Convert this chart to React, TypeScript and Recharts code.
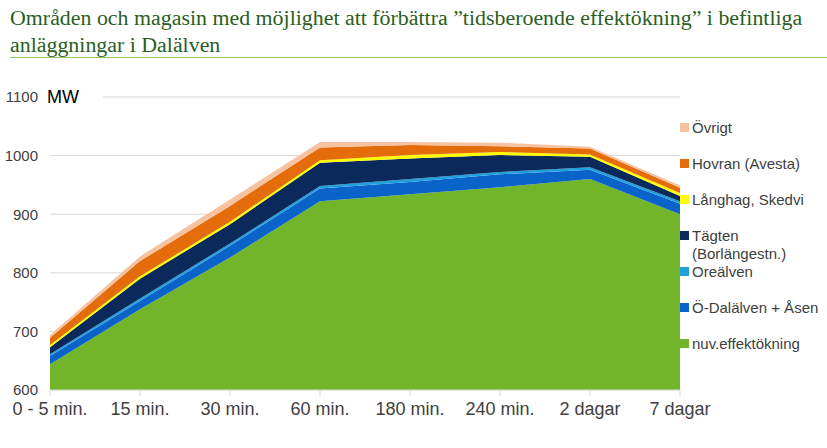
import React from 'react';
import { AreaChart, Area, XAxis, YAxis, CartesianGrid } from 'recharts';

const categories = ['0 - 5 min.', '15 min.', '30 min.', '60 min.', '180 min.', '240 min.', '2 dagar', '7 dagar'];

const nuvEffektokning = [644, 738, 826, 922, 934, 946, 960, 900];
const oDalalvenAsen = [14, 14, 20, 22, 21, 22, 16, 18];
const orealven = [3, 4, 4, 4, 5, 4, 4, 4];
const tagten = [12, 34, 33, 40, 35, 29, 18, 9];
const langhagSkedvi = [4, 4, 4, 4, 6, 5, 4, 5];
const hovranAvesta = [12, 26, 27, 22, 17, 10, 10, 9];
const ovrigt = [5, 8, 11, 9, 5, 6, 3, 4];

const yTicks = [600, 700, 800, 900, 1000, 1100];

const seriesNames = [
  'nuv.effektökning',
  'Ö-Dalälven + Åsen',
  'Oreälven',
  'Tägten (Borlängestn.)',
  'Långhag, Skedvi',
  'Hovran (Avesta)',
  'Övrigt',
];
const seriesValues = [nuvEffektokning, oDalalvenAsen, orealven, tagten, langhagSkedvi, hovranAvesta, ovrigt];
const seriesColors = ['#72B52B', '#0A63C8', '#22A0DE', '#0B2A5B', '#FFFF00', '#E46C0A', '#F7C2A0'];

const data = categories.map((cat, i) => {
  const row: Record<string, string | number> = { cat };
  seriesValues.forEach((vals, s) => {
    row['s' + s] = vals[i];
  });
  return row;
});

const sans = '"Liberation Sans", Arial, sans-serif';

const LegendBox = () => {
  const items = seriesNames.map((name, i) => ({ name, color: seriesColors[i] })).reverse();
  return (
    <div style={{ position: 'absolute', left: 680, top: 119, width: 147, height: 300, fontFamily: sans, fontSize: 15, color: '#404040' }}>
      {items.map((it, i) => (
        <div
          key={it.name}
          style={{ position: 'absolute', left: 0, top: i * 36, display: 'flex', alignItems: 'flex-start', lineHeight: '18px' }}
        >
          <span style={{ width: 9, height: 9, background: it.color, marginTop: 4, marginRight: 3, flex: 'none' }} />
          <span style={{ width: 135 }}>{it.name}</span>
        </div>
      ))}
    </div>
  );
};

export default function App() {
  return (
    <div style={{ position: 'fixed', left: 0, top: 0, width: 827, height: 448, background: '#fff', overflow: 'hidden' }}>
      <div
        style={{
          position: 'absolute',
          left: 10,
          top: 4,
          width: 810,
          fontFamily: '"Liberation Serif", "Times New Roman", serif',
          fontSize: 21.9,
          lineHeight: '27px',
          color: '#2B5E1E',
        }}
      >
        Områden och magasin med möjlighet att förbättra ”tidsberoende effektökning” i befintliga anläggningar i Dalälven
      </div>
      <div style={{ position: 'absolute', left: 10, top: 57, width: 817, height: 1, background: '#92C65A' }} />
      <div style={{ position: 'absolute', top: 0, left: 0 }}>
        <AreaChart width={827} height={448} data={data} margin={{ top: 97, right: 147, bottom: 0, left: 0 }}>
          <CartesianGrid horizontal vertical={false} stroke="#d9d9d9" />
          <XAxis
            dataKey="cat"
            height={58}
            interval={0}
            axisLine={{ stroke: '#d9d9d9' }}
            tickLine={{ stroke: '#d9d9d9' }}
            tickSize={6}
            tickMargin={6}
            tick={{ fill: '#404040', fontSize: 18, fontFamily: sans }}
          />
          <YAxis
            width={50}
            type="number"
            domain={[600, 1100]}
            ticks={yTicks}
            allowDataOverflow
            axisLine={false}
            tickLine={false}
            tickMargin={6}
            tick={{ fill: '#404040', fontSize: 15, fontFamily: sans }}
          />
          {seriesNames.map((name, i) => (
            <Area
              key={name}
              type="linear"
              dataKey={'s' + i}
              name={name}
              stackId="a"
              stroke="none"
              fill={seriesColors[i]}
              fillOpacity={1}
              isAnimationActive={false}
            />
          ))}
        </AreaChart>
      </div>
      <LegendBox />
      <div
        style={{
          position: 'absolute',
          left: 44,
          top: 86,
          width: 56,
          height: 22,
          background: '#fff',
          fontFamily: sans,
          fontSize: 18,
          lineHeight: '22px',
          color: '#000',
          paddingLeft: 3,
        }}
      >
        MW
      </div>
    </div>
  );
}
